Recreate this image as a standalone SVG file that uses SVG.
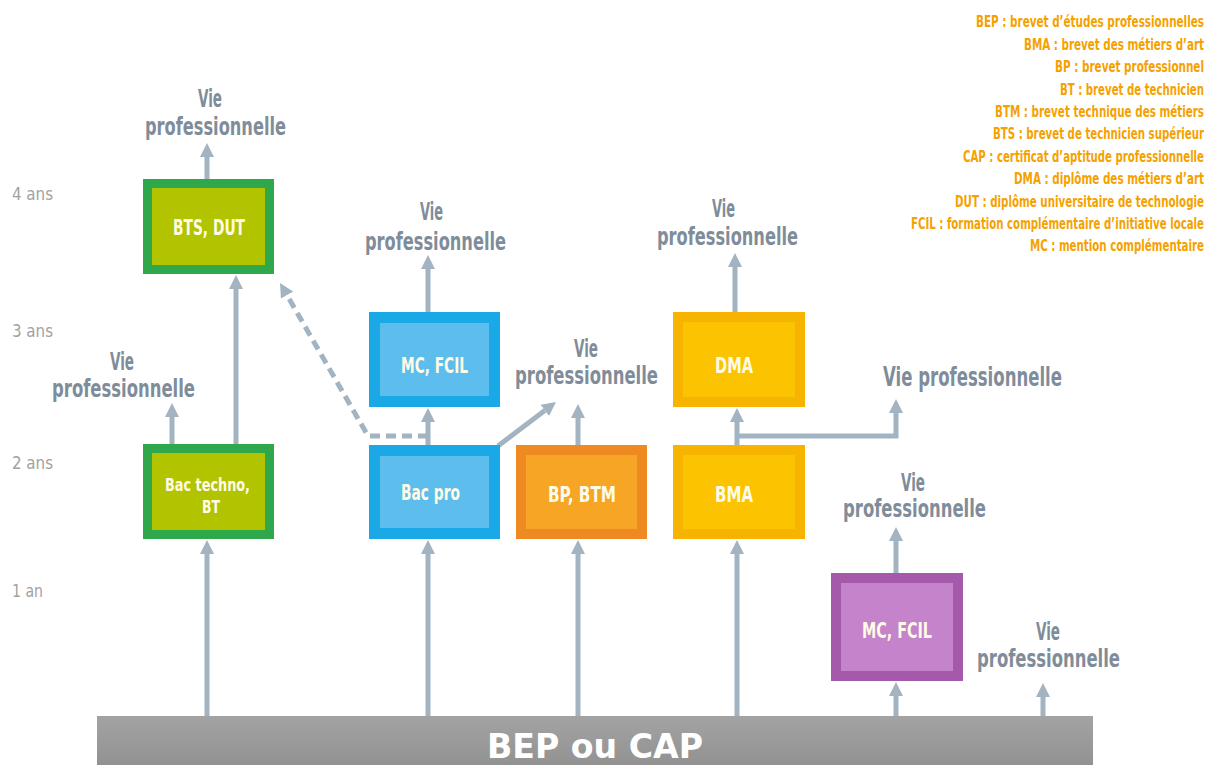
<svg xmlns="http://www.w3.org/2000/svg" width="1208" height="765" viewBox="0 0 1208 765">
<defs>
<style>
.lab{font-family:"DejaVu Sans Condensed","Liberation Sans",sans-serif;font-weight:bold;font-size:24px;fill:#7f8d9a}
.box{font-family:"DejaVu Sans Condensed","Liberation Sans",sans-serif;font-weight:bold;font-size:21px;fill:#fffbe6}
.box2{font-family:"DejaVu Sans Condensed","Liberation Sans",sans-serif;font-weight:bold;font-size:18px;fill:#fffbe6}
.yr{font-family:"DejaVu Sans Condensed","Liberation Sans",sans-serif;font-size:17px;fill:#a2a2a2}
.leg{font-family:"DejaVu Sans Condensed","Liberation Sans",sans-serif;font-weight:bold;font-size:16px;fill:#f5a100;text-anchor:end}
.ar{fill:none;stroke:#a2b3c1;stroke-width:5}
.dash{stroke-dasharray:10 6}
</style>
<marker id="ah" viewBox="0 0 10 10" refX="0" refY="5" markerWidth="14" markerHeight="14" markerUnits="userSpaceOnUse" orient="auto">
<path d="M0,0 L10,5 L0,10 z" fill="#a2b3c1"/>
</marker>
<linearGradient id="bar" x1="0" y1="0" x2="0" y2="1">
<stop offset="0" stop-color="#a3a3a3"/>
<stop offset="1" stop-color="#929292"/>
</linearGradient>
</defs>
<rect width="1208" height="765" fill="#ffffff"/>

<g id="legend">
<text class="leg" x="1204" y="27" textLength="228" lengthAdjust="spacingAndGlyphs">BEP : brevet d’études professionnelles</text>
<text class="leg" x="1204" y="50" textLength="180" lengthAdjust="spacingAndGlyphs">BMA : brevet des métiers d’art</text>
<text class="leg" x="1204" y="72" textLength="149" lengthAdjust="spacingAndGlyphs">BP : brevet professionnel</text>
<text class="leg" x="1204" y="95" textLength="144" lengthAdjust="spacingAndGlyphs">BT : brevet de technicien</text>
<text class="leg" x="1204" y="117" textLength="209" lengthAdjust="spacingAndGlyphs">BTM : brevet technique des métiers</text>
<text class="leg" x="1204" y="139" textLength="211" lengthAdjust="spacingAndGlyphs">BTS : brevet de technicien supérieur</text>
<text class="leg" x="1204" y="162" textLength="241" lengthAdjust="spacingAndGlyphs">CAP : certificat d’aptitude professionnelle</text>
<text class="leg" x="1204" y="184" textLength="190" lengthAdjust="spacingAndGlyphs">DMA : diplôme des métiers d’art</text>
<text class="leg" x="1204" y="207" textLength="249" lengthAdjust="spacingAndGlyphs">DUT : diplôme universitaire de technologie</text>
<text class="leg" x="1204" y="229" textLength="293" lengthAdjust="spacingAndGlyphs">FCIL : formation complémentaire d’initiative locale</text>
<text class="leg" x="1204" y="251" textLength="174" lengthAdjust="spacingAndGlyphs">MC : mention complémentaire</text>
</g>

<g id="years">
<text class="yr" x="12" y="200" textLength="41" lengthAdjust="spacingAndGlyphs">4 ans</text>
<text class="yr" x="12" y="337" textLength="41" lengthAdjust="spacingAndGlyphs">3 ans</text>
<text class="yr" x="12" y="469" textLength="41" lengthAdjust="spacingAndGlyphs">2 ans</text>
<text class="yr" x="12" y="597" textLength="31" lengthAdjust="spacingAndGlyphs">1 an</text>
</g>

<g id="connectors">
<path class="ar" d="M207,716 V554" marker-end="url(#ah)"/>
<path class="ar" d="M428,716 V554" marker-end="url(#ah)"/>
<path class="ar" d="M578,716 V554" marker-end="url(#ah)"/>
<path class="ar" d="M737,716 V554" marker-end="url(#ah)"/>
<path class="ar" d="M896,716 V696" marker-end="url(#ah)"/>
<path class="ar" d="M1043,716 V697" marker-end="url(#ah)"/>
<path class="ar" d="M172,444 V417" marker-end="url(#ah)"/>
<path class="ar" d="M236,444 V289" marker-end="url(#ah)"/>
<path class="ar" d="M207,179 V157" marker-end="url(#ah)"/>
<path class="ar" d="M428,445 V422" marker-end="url(#ah)"/>
<path class="ar" d="M428,312 V269" marker-end="url(#ah)"/>
<path class="ar" d="M498,446 L544.8,410.5" marker-end="url(#ah)"/>
<path class="ar" d="M578,445 V418" marker-end="url(#ah)"/>
<path class="ar" d="M737,445 V422" marker-end="url(#ah)"/>
<path class="ar" d="M735,312 V267" marker-end="url(#ah)"/>
<path class="ar" d="M737,436 H896 V413" marker-end="url(#ah)"/>
<path class="ar" d="M896,573 V541" marker-end="url(#ah)"/>
<path class="ar dash" d="M428,436 H368 L287,295.1" marker-end="url(#ah)"/>
</g>

<g id="labels">
<text class="lab" x="198" y="107" textLength="24" lengthAdjust="spacingAndGlyphs">Vie</text>
<text class="lab" x="145" y="135" textLength="141" lengthAdjust="spacingAndGlyphs">professionnelle</text>
<text class="lab" x="420" y="220" textLength="23" lengthAdjust="spacingAndGlyphs">Vie</text>
<text class="lab" x="365" y="250" textLength="141" lengthAdjust="spacingAndGlyphs">professionnelle</text>
<text class="lab" x="712" y="217" textLength="23" lengthAdjust="spacingAndGlyphs">Vie</text>
<text class="lab" x="657" y="245" textLength="141" lengthAdjust="spacingAndGlyphs">professionnelle</text>
<text class="lab" x="110" y="370" textLength="24" lengthAdjust="spacingAndGlyphs">Vie</text>
<text class="lab" x="52" y="397" textLength="143" lengthAdjust="spacingAndGlyphs">professionnelle</text>
<text class="lab" x="574" y="357" textLength="24" lengthAdjust="spacingAndGlyphs">Vie</text>
<text class="lab" x="515" y="384" textLength="143" lengthAdjust="spacingAndGlyphs">professionnelle</text>
<text class="lab" x="901" y="491" textLength="24" lengthAdjust="spacingAndGlyphs">Vie</text>
<text class="lab" x="843" y="517" textLength="143" lengthAdjust="spacingAndGlyphs">professionnelle</text>
<text class="lab" x="1036" y="640" textLength="24" lengthAdjust="spacingAndGlyphs">Vie</text>
<text class="lab" x="977" y="667" textLength="143" lengthAdjust="spacingAndGlyphs">professionnelle</text>
<text x="883" y="386" font-family="'DejaVu Sans Condensed','Liberation Sans',sans-serif" font-size="27" font-weight="bold" fill="#7f8d9a" textLength="179" lengthAdjust="spacingAndGlyphs">Vie professionnelle</text>
</g>

<g id="bts-dut">
<rect x="143" y="179" width="131" height="95" fill="#2ea84a"/>
<rect x="152" y="188" width="113" height="77" fill="#b2c400"/>
<text class="box" x="173" y="235" textLength="72" lengthAdjust="spacingAndGlyphs">BTS, DUT</text>
</g>
<g id="bac-techno">
<rect x="143" y="444" width="131" height="95" fill="#2ea84a"/>
<rect x="152" y="453" width="113" height="77" fill="#b2c400"/>
<text class="box2" x="165" y="491" textLength="85" lengthAdjust="spacingAndGlyphs">Bac techno,</text>
<text class="box2" x="202" y="513" textLength="18" lengthAdjust="spacingAndGlyphs">BT</text>
</g>
<g id="mc-fcil-blue">
<rect x="369" y="312" width="131" height="95" fill="#1aa9e6"/>
<rect x="380" y="323" width="109" height="73" fill="#5dbdec"/>
<text class="box" x="401" y="373" textLength="67" lengthAdjust="spacingAndGlyphs">MC, FCIL</text>
</g>
<g id="bac-pro">
<rect x="369" y="445" width="131" height="94" fill="#1aa9e6"/>
<rect x="380" y="456" width="109" height="72" fill="#5dbdec"/>
<text class="box" x="401" y="500" textLength="59" lengthAdjust="spacingAndGlyphs">Bac pro</text>
</g>
<g id="bp-btm">
<rect x="516" y="445" width="131" height="94" fill="#ef8a22"/>
<rect x="526" y="455" width="111" height="74" fill="#f6a524"/>
<text class="box" x="548" y="502" textLength="68" lengthAdjust="spacingAndGlyphs">BP, BTM</text>
</g>
<g id="dma">
<rect x="673" y="312" width="132" height="95" fill="#f6b400"/>
<rect x="683" y="322" width="112" height="75" fill="#fcc300"/>
<text class="box" x="715" y="373" textLength="38" lengthAdjust="spacingAndGlyphs">DMA</text>
</g>
<g id="bma">
<rect x="673" y="445" width="132" height="94" fill="#f6b400"/>
<rect x="683" y="455" width="112" height="74" fill="#fcc300"/>
<text class="box" x="715" y="502" textLength="38" lengthAdjust="spacingAndGlyphs">BMA</text>
</g>
<g id="mc-fcil-purple">
<rect x="831" y="573" width="132" height="108" fill="#a459ab"/>
<rect x="841" y="583" width="112" height="88" fill="#c483cb"/>
<text class="box" x="862" y="638" textLength="70" lengthAdjust="spacingAndGlyphs">MC, FCIL</text>
</g>
<g id="bep-cap">
<rect x="97" y="716" width="996" height="49" fill="url(#bar)"/>
<text x="487" y="758" font-family="'DejaVu Sans','Liberation Sans',sans-serif" font-weight="bold" font-size="34" fill="#ffffff" textLength="216" lengthAdjust="spacingAndGlyphs">BEP ou CAP</text>
</g>
</svg>
